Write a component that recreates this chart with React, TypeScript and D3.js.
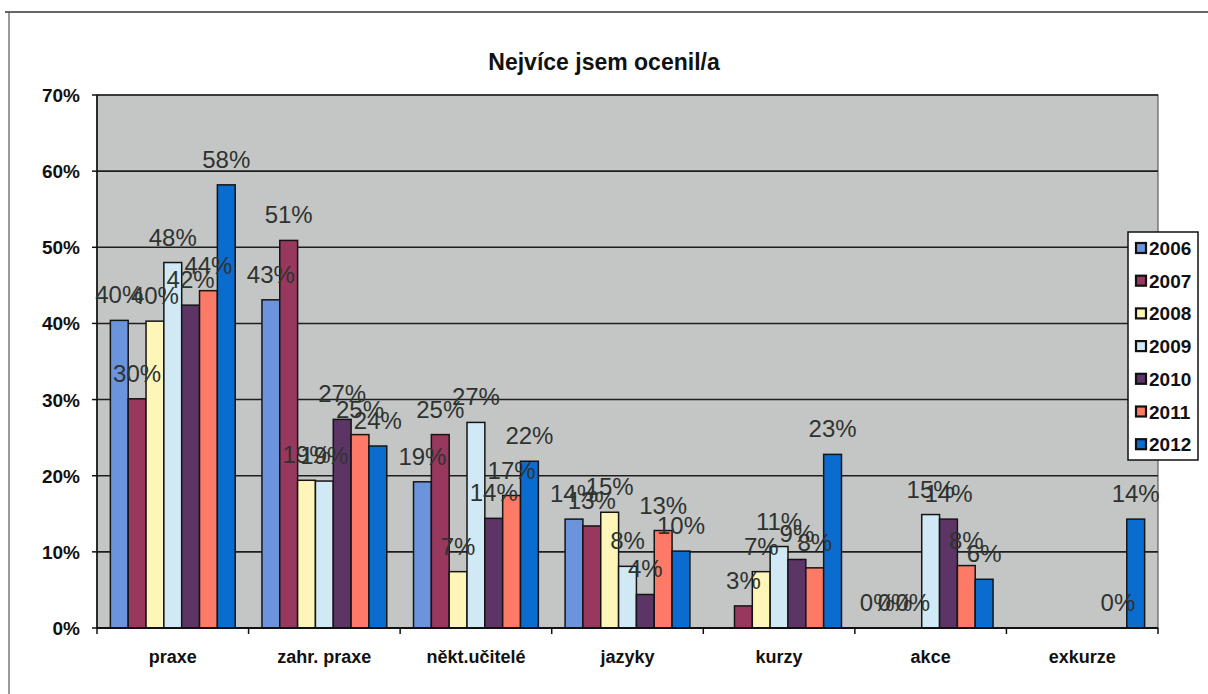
import React from "react";
import * as d3 from "d3";

const categories = ["praxe", "zahr. praxe", "někt.učitelé", "jazyky", "kurzy", "akce", "exkurze"];
const years = ["2006", "2007", "2008", "2009", "2010", "2011", "2012"];
const v2006 = [40.4, 43.1, 19.2, 14.3, null, 0, null];
const v2007 = [30.1, 50.9, 25.4, 13.4, 2.9, 0, null];
const v2008 = [40.3, 19.4, 7.4, 15.2, 7.4, 0, null];
const v2009 = [48.0, 19.3, 27.0, 8.1, 10.7, 14.9, null];
const v2010 = [42.4, 27.4, 14.4, 4.4, 9.0, 14.3, null];
const v2011 = [44.3, 25.4, 17.4, 12.8, 7.9, 8.2, 0];
const v2012 = [58.2, 23.9, 21.9, 10.1, 22.8, 6.4, 14.3];
const seriesValues: (number | null)[][] = [v2006, v2007, v2008, v2009, v2010, v2011, v2012];
const seriesColors = ["#6b94dc", "#99385e", "#fdf6b8", "#d0e9f5", "#5c3566", "#fd7a66", "#0b6cd0"];
const yTicks = [0, 10, 20, 30, 40, 50, 60, 70];
const title = "Nejvíce jsem ocenil/a";

const W = 1208;
const H = 694;
const FONT = "'Liberation Sans', Arial, sans-serif";
const plot = { left: 97, right: 1158, top: 95, bottom: 628 };

export default function App() {
  const x = d3.scaleBand<string>().domain(categories).range([plot.left, plot.right]).paddingInner(0).paddingOuter(0);
  const xi = d3.scaleBand<string>().domain(years).range([0, x.bandwidth()]).paddingInner(0).paddingOuter(0.75);
  const y = d3.scaleLinear().domain([0, 70]).range([plot.bottom, plot.top]);
  const boundaries = categories.map((c) => x(c)!).concat([plot.right]);

  return (
    <svg width={W} height={H} style={{ position: "absolute", left: 0, top: 0, background: "#fff" }} fontFamily={FONT}>
      {/* outer frame */}
      <line x1={5} x2={W} y1={12} y2={12} stroke="#333" strokeWidth={1.5} />
      <line x1={9} x2={9} y1={12} y2={H} stroke="#555" strokeWidth={1.2} />

      <text x={604} y={70} textAnchor="middle" fontSize={23} fontWeight="bold" fill="#111">{title}</text>

      {/* plot area */}
      <rect x={plot.left} y={plot.top} width={plot.right - plot.left} height={plot.bottom - plot.top} fill="#c4c6c5" stroke="#444" strokeWidth={1} />
      {yTicks.filter((t) => t > 0).map((t) => (
        <line key={"g" + t} x1={plot.left} x2={plot.right} y1={y(t)} y2={y(t)} stroke="#1e1e1e" strokeWidth={1.6} />
      ))}

      {/* bars */}
      {seriesValues.map((vals, si) =>
        vals.map((v, ci) =>
          v === null || v <= 0 ? null : (
            <rect
              key={`b${si}-${ci}`}
              x={x(categories[ci])! + xi(years[si])!}
              y={y(v)}
              width={xi.bandwidth()}
              height={y(0) - y(v)}
              fill={seriesColors[si]}
              stroke="#151515"
              strokeWidth={1.5}
            />
          )
        )
      )}

      {/* axes */}
      <line x1={plot.left} x2={plot.left} y1={plot.top} y2={plot.bottom} stroke="#111" strokeWidth={1.6} />
      <line x1={plot.left} x2={plot.right} y1={plot.bottom} y2={plot.bottom} stroke="#111" strokeWidth={1.8} />
      {yTicks.map((t) => (
        <g key={"y" + t}>
          <line x1={plot.left - 5} x2={plot.left} y1={y(t)} y2={y(t)} stroke="#111" strokeWidth={1.5} />
          <text x={80} y={y(t) + 7} textAnchor="end" fontSize={19} fontWeight="bold" fill="#111">{t + "%"}</text>
        </g>
      ))}
      {boundaries.map((b, i) => (
        <line key={"xt" + i} x1={b} x2={b} y1={plot.bottom} y2={plot.bottom + 6} stroke="#111" strokeWidth={1.5} />
      ))}
      {categories.map((c) => (
        <text key={"xl" + c} x={x(c)! + x.bandwidth() / 2} y={663} textAnchor="middle" fontSize={18} fontWeight="bold" fill="#111">{c}</text>
      ))}

      {/* data labels */}
      {seriesValues.map((vals, si) =>
        vals.map((v, ci) =>
          v === null ? null : (
            <text
              key={`l${si}-${ci}`}
              x={x(categories[ci])! + xi(years[si])! + xi.bandwidth() / 2}
              y={y(v) - 17}
              textAnchor="middle"
              fontSize={24}
              fill="#2e3330"
            >
              {Math.round(v) + "%"}
            </text>
          )
        )
      )}

      {/* legend */}
      <rect x={1128} y={232} width={70} height={228} fill="#fff" stroke="#111" strokeWidth={1.5} />
      {years.map((yr, i) => {
        const cy = 248 + i * 32.7;
        return (
          <g key={"lg" + yr}>
            <rect x={1136} y={cy - 5} width={10} height={10} fill={seriesColors[i]} stroke="#111" strokeWidth={2.2} />
            <text x={1149} y={cy + 7} fontSize={19} fontWeight="bold" fill="#111">{yr}</text>
          </g>
        );
      })}
    </svg>
  );
}
